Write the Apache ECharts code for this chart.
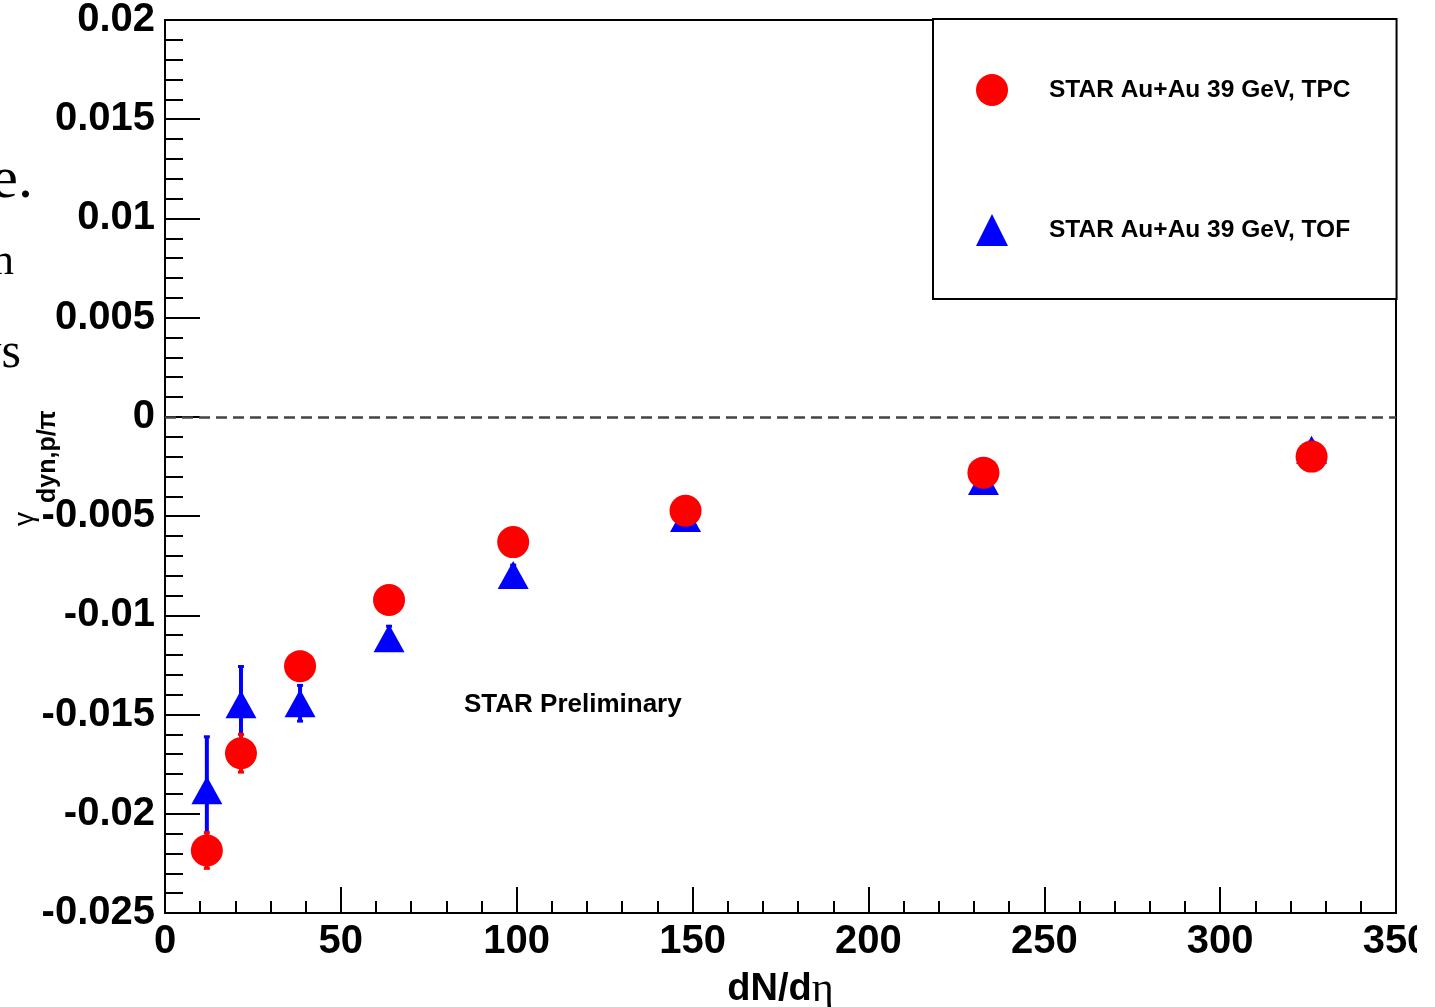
<!DOCTYPE html>
<html>
<head>
<meta charset="utf-8">
<title>dyn p/pi vs dN/deta</title>
<script src="https://cdn.jsdelivr.net/npm/echarts@6/dist/echarts.min.js"></script>
<style>
  html, body { margin: 0; padding: 0; background: #fff; overflow: hidden; }
  #chart { width: 1417px; height: 1007px; }
</style>
</head>
<body>
<div id="chart"></div>
<script>
  // values
  const dNdEta = [11.9, 21.6, 38.4, 63.7, 99.0, 148.0, 232.7, 326.0];
  const tpcValues = [-0.02185, -0.01695, -0.01256, -0.00923, -0.00631, -0.00473, -0.00281, -0.0020];
  const tpcErrors = [0.0009, 0.00095, 0.0007, 0.0006, 0.0005, 0.0004, 0.0004, 0.0004];
  const tofValues = [-0.01882, -0.01448, -0.01443, -0.01115, -0.00797, -0.0051, -0.00323, -0.00166];
  const tofErrors = [0.0027, 0.0019, 0.0009, 0.0006, 0.0005, 0.0004, 0.0004, 0.0004];
  const tpcName = 'STAR Au+Au 39 GeV, TPC';
  const tofName = 'STAR Au+Au 39 GeV, TOF';

  const font = '"Liberation Sans", Arial, Helvetica, sans-serif';

  const tpcPoints = dNdEta.map((x, i) => [x, tpcValues[i]]);
  const tofPoints = dNdEta.map((x, i) => [x, tofValues[i]]);
  const tpcBars = dNdEta.map((x, i) => [x, tpcValues[i] - tpcErrors[i], tpcValues[i] + tpcErrors[i]]);
  const tofBars = dNdEta.map((x, i) => [x, tofValues[i] - tofErrors[i], tofValues[i] + tofErrors[i]]);

  function errorBar(color) {
    return function (params, api) {
      const x = api.value(0);
      const top = api.coord([x, api.value(2)]);
      const bot = api.coord([x, api.value(1)]);
      return {
        type: 'group',
        children: [
          { type: 'line', shape: { x1: top[0], y1: top[1], x2: bot[0], y2: bot[1] }, style: { stroke: color, lineWidth: 4 } },
          { type: 'line', shape: { x1: top[0] - 3, y1: top[1], x2: top[0] + 3, y2: top[1] }, style: { stroke: color, lineWidth: 3 } },
          { type: 'line', shape: { x1: bot[0] - 3, y1: bot[1], x2: bot[0] + 3, y2: bot[1] }, style: { stroke: color, lineWidth: 3 } }
        ]
      };
    };
  }

  const myChart = echarts.init(document.getElementById('chart'));
  const option = {
    animation: false,
    backgroundColor: '#fff',
    grid: {
      left: 165,
      top: 20,
      right: 21,
      bottom: 94,
      show: true,
      borderColor: '#000',
      borderWidth: 2,
      backgroundColor: 'transparent',
      outerBoundsMode: 'none'
    },
    legend: {
      data: [
        { name: tpcName, icon: 'circle' },
        { name: tofName, icon: 'triangle' }
      ],
      orient: 'vertical',
      left: 933,
      top: 19,
      itemWidth: 32,
      itemHeight: 32,
      itemGap: 108,
      padding: [55, 46, 53, 43],
      borderColor: '#000',
      borderWidth: 2,
      backgroundColor: '#fff',
      selectedMode: false,
      textStyle: {
        fontFamily: font,
        fontSize: 24.5,
        fontWeight: 'bold',
        color: '#000',
        padding: [0, 0, 0, 36]
      }
    },
    xAxis: {
      type: 'value',
      min: 0,
      max: 350,
      interval: 50,
      name: '{a|dN/d}{b|η}',
      nameLocation: 'middle',
      nameGap: 56,
      nameTextStyle: {
        rich: {
          a: { fontFamily: font, fontSize: 38, fontWeight: 'bold', color: '#000' },
          b: { fontFamily: '"Liberation Serif", serif', fontSize: 42, color: '#000' }
        }
      },
      axisLine: { onZero: false, lineStyle: { color: '#000', width: 2 } },
      axisTick: { inside: true, length: 26, lineStyle: { color: '#000', width: 2 } },
      minorTick: { show: true, splitNumber: 5, length: 12, lineStyle: { color: '#000', width: 2 } },
      splitLine: { show: false },
      axisLabel: {
        margin: 9,
        fontFamily: font,
        fontSize: 40,
        fontWeight: 'bold',
        color: '#000',
        showMaxLabel: true
      }
    },
    yAxis: {
      type: 'value',
      min: -0.025,
      max: 0.02,
      interval: 0.005,
      axisLine: { onZero: false, lineStyle: { color: '#000', width: 2 } },
      axisTick: { inside: true, length: 35, lineStyle: { color: '#000', width: 2 } },
      minorTick: { show: true, splitNumber: 5, length: 18, lineStyle: { color: '#000', width: 2 } },
      splitLine: { show: false },
      axisLabel: {
        margin: 10,
        fontFamily: font,
        fontSize: 40,
        fontWeight: 'bold',
        color: '#000',
        formatter: function (v) { return String(+v.toFixed(3)); }
      }
    },
    graphic: [
      {
        // y axis title, rotated
        type: 'group',
        x: 25,
        y: 526,
        rotation: Math.PI / 2,
        children: [
          { type: 'text', x: 0, y: 0, style: { text: 'γ', font: '28px ' + font, fill: '#000', textAlign: 'left', textVerticalAlign: 'middle' } },
          { type: 'text', x: 23, y: 23.5, style: { text: 'dyn,p/π', font: 'bold 25px ' + font, fill: '#000', textAlign: 'left', textVerticalAlign: 'middle' } }
        ]
      },
      {
        type: 'text', left: 464, top: 692,
        style: { text: 'STAR Preliminary', font: 'bold 26px ' + font, fill: '#000' }
      },
      // bits of page text that stick out on the left
      { type: 'text', x: 33, y: 211, style: { text: 'e.', font: '60px "Liberation Serif", serif', fill: '#000', textAlign: 'right', textVerticalAlign: 'bottom' } },
      { type: 'text', x: 14, y: 284, style: { text: 'n', font: '44px "Liberation Serif", serif', fill: '#000', textAlign: 'right', textVerticalAlign: 'bottom' } },
      { type: 'text', x: 21, y: 379, style: { text: 'ys', font: '50px "Liberation Serif", serif', fill: '#000', textAlign: 'right', textVerticalAlign: 'bottom' } }
    ],
    series: [
      {
        name: 'tof errors',
        type: 'custom',
        renderItem: errorBar('#0000ff'),
        data: tofBars,
        silent: true,
        z: 2
      },
      {
        name: tofName,
        type: 'scatter',
        data: tofPoints,
        symbol: 'triangle',
        symbolSize: [31, 28],
        itemStyle: { color: '#0000ff', opacity: 1 },
        z: 3,
        markLine: {
          silent: true,
          symbol: 'none',
          label: { show: false },
          lineStyle: { type: [11, 6], color: '#444', width: 2.5 },
          data: [{ yAxis: 0 }]
        }
      },
      {
        name: 'tpc errors',
        type: 'custom',
        renderItem: errorBar('#ff0000'),
        data: tpcBars,
        silent: true,
        z: 4
      },
      {
        name: tpcName,
        type: 'scatter',
        data: tpcPoints,
        symbol: 'circle',
        symbolSize: 32,
        itemStyle: { color: '#ff0000', opacity: 1 },
        z: 5
      }
    ]
  };
  myChart.setOption(option, true);
</script>
</body>
</html>
